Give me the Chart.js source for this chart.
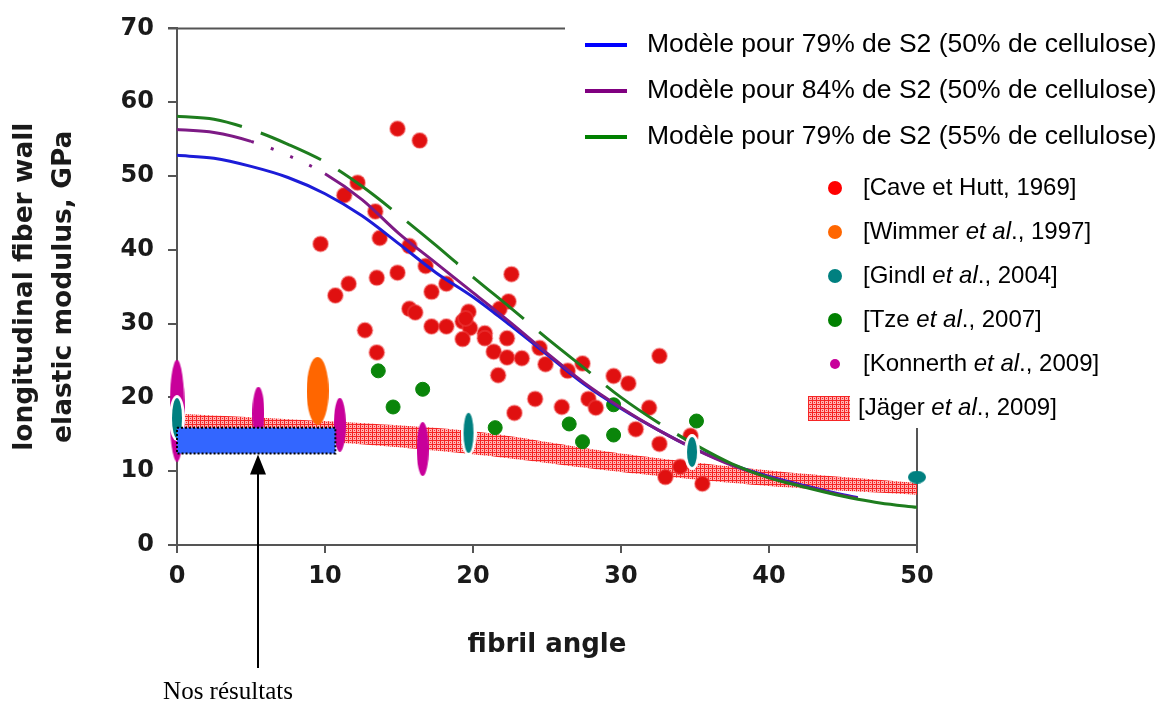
<!DOCTYPE html>
<html>
<head>
<meta charset="utf-8">
<script src="https://cdn.jsdelivr.net/npm/chart.js@4.4.0/dist/chart.umd.min.js"></script>
<style>
  html, body { margin: 0; padding: 0; background: #fff; }
  #wrap { position: relative; width: 1163px; height: 703px; }
</style>
</head>
<body>
<div id="wrap"><canvas id="chart" width="1163" height="703"></canvas></div>
<script>
// fibril angle (deg) -> longitudinal modulus (GPa)
const modelAngles = [0, 2.5, 5, 7.5, 10, 12.5, 15, 17.5, 20, 22.5, 25, 27.5, 30, 32.5, 35, 37.5, 40, 42.5, 45, 46, 47.5, 50]
const model79s2c50 = [52.8, 52.4, 51.3, 49.8, 47.6, 44.6, 40.8, 36.9, 33.6, 29.8, 25.8, 21.8, 18.5, 15.6, 13.0, 10.9, 9.3, 8.0, 6.8, 6.4, null, null]
const model84s2c50 = [56.3, 55.9, 54.7, 52.8, 50.3, 46.8, 42.2, 38.2, 34.2, 30.2, 26.0, 22.0, 18.6, 15.6, 13.0, 10.8, 9.2, 7.9, 6.7, 6.3, null, null]
const model79s2c55 = [58.1, 57.7, 56.3, 54.3, 51.9, 48.6, 44.7, 40.6, 36.3, 32.2, 28.0, 24.0, 20.0, 16.6, 13.6, 11.0, 9.1, 7.8, 6.6, 6.2, 5.7, 5.1]

const caveAngle = [14.9, 16.4, 12.2, 11.3, 13.4, 13.7, 9.7, 15.7, 16.8, 11.6, 10.7, 13.5, 14.9, 17.2, 18.2, 12.7, 13.5, 15.7, 16.1, 17.2,
  18.2, 22.6, 19.3, 19.7, 19.8, 19.3, 19.5, 20.8, 20.8, 22.4, 21.8, 22.3, 21.4, 22.3, 23.3, 21.7, 24.5, 24.9, 26.4, 24.2,
  22.8, 26.0, 27.4, 32.6, 29.5, 30.5, 27.8, 28.3, 31.9, 31.0, 32.6, 34.7, 34.0, 33.0, 35.5]
const caveModulus = [56.4, 54.8, 49.1, 47.4, 45.2, 41.6, 40.8, 40.5, 37.8, 35.4, 33.8, 36.2, 36.9, 34.3, 35.4, 29.1, 26.1, 32.0, 31.5, 29.6,
  29.6, 36.7, 30.3, 31.6, 29.4, 27.9, 30.7, 28.7, 28.0, 33.0, 32.0, 28.0, 26.2, 25.4, 25.3, 23.0, 26.7, 24.5, 23.6, 19.8,
  17.9, 18.7, 24.6, 25.6, 22.9, 21.9, 19.8, 18.6, 18.6, 15.7, 13.7, 14.8, 10.6, 9.2, 8.3]

const wimmerAngle = [9.5]
const wimmerModulus = [20.9]

const gindlAngle = [0, 19.7, 34.8, 50]
const gindlModulus = [17.2, 15.2, 12.6, 9.2]

const tzeAngle = [13.6, 14.6, 16.6, 21.5, 26.5, 27.4, 29.5, 29.5, 35.1]
const tzeModulus = [23.6, 18.7, 21.1, 15.9, 16.4, 14.0, 19.0, 14.9, 16.8]

const konnerthAngle = [0, 5.5, 11.0, 16.6]
const konnerthModulus = [18.2, 17.8, 16.3, 13.0]

const jagerAngle = [0, 10, 20, 30, 40, 50]
const jagerHigh = [17.8, 16.8, 15.4, 12.4, 10.1, 8.4]
const jagerLow = [14.8, 14.0, 12.3, 9.9, 8.0, 6.8]

const ourAngle = [0, 10.7]
const ourModulus = [12.4, 15.9]
const arrowAngle = 5.5

const labels = [
  'Modèle pour 79% de S2 (50% de cellulose)',
  'Modèle pour 84% de S2 (50% de cellulose)',
  'Modèle pour 79% de S2 (55% de cellulose)'
]
const refLabels = [
  ['[Cave et Hutt, 1969]'],
  ['[Wimmer ', 'et al', '., 1997]'],
  ['[Gindl ', 'et al', '., 2004]'],
  ['[Tze ', 'et al', '., 2007]'],
  ['[Konnerth ', 'et al', '., 2009]'],
  ['[Jäger ', 'et al', '., 2009]']
]

const pts = (xs, ys) => xs.map((x, i) => ({ x, y: ys[i] }))

function ellipse (w, h, fill, ring) {
  const c = document.createElement('canvas')
  c.width = w
  c.height = h
  const g = c.getContext('2d')
  if (ring) {
    g.fillStyle = '#fff'
    g.beginPath()
    g.ellipse(w / 2, h / 2, w / 2, h / 2, 0, 0, Math.PI * 2)
    g.fill()
  }
  const r = ring ? 3 : 0
  g.fillStyle = fill
  g.beginPath()
  g.ellipse(w / 2, h / 2, w / 2 - r, h / 2 - r, 0, 0, Math.PI * 2)
  g.fill()
  return c
}

const $canvas = document.getElementById('chart')
const ctx = $canvas.getContext('2d')

function hatch () {
  const c = document.createElement('canvas')
  c.width = 4
  c.height = 4
  const g = c.getContext('2d')
  g.fillStyle = '#ffb4b4'
  g.fillRect(0, 0, 4, 4)
  g.fillStyle = '#f52525'
  g.fillRect(0, 0, 4, 1)
  g.fillRect(0, 0, 1, 4)
  g.fillRect(2, 2, 1, 1)
  return ctx.createPattern(c, 'repeat')
}
const hatchFill = hatch()

const magenta = '#c8009a'
const teal = '#008080'

const konnerthShapes = [
  ellipse(15, 102, magenta), ellipse(12, 54, magenta), ellipse(12, 54, magenta), ellipse(12, 54, magenta)
]
const gindlShapes = [
  ellipse(16, 46, teal, true), ellipse(16, 46, teal, true), ellipse(16, 36, teal, true), ellipse(18, 13, teal)
]
const wimmerShapes = [ellipse(22, 68, '#ff6600')]

const modelLine = (data, color, order, extra) => Object.assign({
  type: 'line',
  data: pts(modelAngles, data),
  borderColor: color,
  borderWidth: 3,
  pointRadius: 0,
  cubicInterpolationMode: 'monotone',
  fill: false,
  order
}, extra)

const ourBox = [
  { x: ourAngle[0], y: ourModulus[1] },
  { x: ourAngle[1], y: ourModulus[1] },
  { x: ourAngle[1], y: ourModulus[0] },
  { x: ourAngle[0], y: ourModulus[0] },
  { x: ourAngle[0], y: ourModulus[1] }
]

const datasets = [
  {
    type: 'line',
    label: 'Nos résultats',
    data: ourBox,
    borderColor: '#000',
    borderWidth: 2,
    borderDash: [2, 2],
    backgroundColor: '#3366ff',
    fill: 'shape',
    pointRadius: 0,
    tension: 0,
    clip: false,
    order: 0
  },
  { label: 'Wimmer', data: pts(wimmerAngle, wimmerModulus), pointStyle: wimmerShapes, pointRadius: 5, clip: false, order: 1 },
  { label: 'Gindl', data: pts(gindlAngle, gindlModulus), pointStyle: gindlShapes, pointRadius: 5, clip: false, order: 2 },
  { label: 'Konnerth', data: pts(konnerthAngle, konnerthModulus), pointStyle: konnerthShapes, pointRadius: 5, clip: false, order: 3 },
  modelLine(model79s2c55, '#1e7d1e', 4, {
    segment: { borderDash: (c) => (c.p0.parsed.x < 35 ? [66, 20] : undefined) }
  }),
  modelLine(model84s2c50, '#7d1a85', 5, {
    segment: { borderDash: (c) => (c.p0.parsed.x >= 5 && c.p0.parsed.x < 10 ? [3, 18] : undefined) }
  }),
  modelLine(model79s2c50, '#1c1cd8', 6),
  {
    label: 'Tze',
    data: pts(tzeAngle, tzeModulus),
    backgroundColor: '#0a850a',
    borderColor: '#0a850a',
    pointRadius: 7,
    order: 7
  },
  {
    label: 'Cave et Hutt',
    data: pts(caveAngle, caveModulus),
    backgroundColor: '#e01010',
    borderColor: 'rgba(240, 70, 70, 0.45)',
    borderWidth: 2,
    pointRadius: 7.5,
    order: 8
  },
  {
    type: 'line',
    label: 'Jäger haut',
    data: pts(jagerAngle, jagerHigh),
    borderWidth: 0,
    borderColor: 'rgba(0,0,0,0)',
    backgroundColor: hatchFill,
    fill: '+1',
    pointRadius: 0,
    tension: 0.3,
    order: 9
  },
  {
    type: 'line',
    label: 'Jäger bas',
    data: pts(jagerAngle, jagerLow),
    borderWidth: 0,
    borderColor: 'rgba(0,0,0,0)',
    pointRadius: 0,
    tension: 0.3,
    fill: false,
    order: 10
  }
]

const boldFont = (size) => ({ family: 'DejaVu Sans', weight: 'bold', size })

// top and right edges of the plot box
const frame = {
  id: 'frame',
  beforeDatasetsDraw (chart) {
    const { left, right, top, bottom } = chart.chartArea
    const c = chart.ctx
    c.save()
    c.strokeStyle = '#555'
    c.lineWidth = 2
    c.beginPath()
    c.moveTo(left - 9, top)
    c.lineTo(right, top)
    c.moveTo(right, top)
    c.lineTo(right, bottom + 8)
    c.stroke()
    c.restore()
  }
}

// legend box drawn over the upper right corner
const legendBox = {
  id: 'legendBox',
  afterDatasetsDraw (chart) {
    const c = chart.ctx
    c.save()
    c.fillStyle = '#fff'
    c.fillRect(565, 0, 598, 166)
    c.fillRect(790, 166, 373, 262)
    c.textBaseline = 'middle'
    c.fillStyle = '#000'

    const lineColors = ['#0000ff', '#800080', '#008000']
    labels.forEach((t, i) => {
      const y = 45 + i * 46
      c.fillStyle = lineColors[i]
      c.fillRect(585, y - 2, 42, 4)
      c.fillStyle = '#000'
      c.font = '26.5px "Liberation Sans"'
      c.fillText(t, 647, y)
    })

    const dotColors = ['#ff0000', '#ff6600', teal, '#008000', magenta]
    const dotSizes = [7, 7, 7, 7, 5]
    refLabels.forEach((parts, i) => {
      const y = 188 + i * 44
      let x = 863
      if (i < 5) {
        c.fillStyle = dotColors[i]
        c.beginPath()
        c.arc(835, y, dotSizes[i], 0, Math.PI * 2)
        c.fill()
      } else {
        c.fillStyle = hatchFill
        c.fillRect(808, y - 12, 42, 25)
        x = 858
      }
      c.fillStyle = '#000'
      parts.forEach((p, k) => {
        c.font = (k === 1 ? 'italic ' : '') + '24px "Liberation Sans"'
        c.fillText(p, x, y)
        x += c.measureText(p).width
      })
    })
    c.restore()
  }
}

// arrow and caption under the blue box
const arrow = {
  id: 'arrow',
  afterDatasetsDraw (chart) {
    const c = chart.ctx
    const x = Math.round(chart.scales.x.getPixelForValue(arrowAngle))
    const tip = chart.scales.y.getPixelForValue(ourModulus[0]) + 1
    c.save()
    c.strokeStyle = '#000'
    c.fillStyle = '#000'
    c.lineWidth = 2
    c.beginPath()
    c.moveTo(x, 668)
    c.lineTo(x, tip + 18)
    c.stroke()
    c.beginPath()
    c.moveTo(x, tip)
    c.lineTo(x - 8, tip + 20)
    c.lineTo(x + 8, tip + 20)
    c.closePath()
    c.fill()
    c.font = '25px "Liberation Serif"'
    c.textAlign = 'center'
    c.textBaseline = 'middle'
    c.fillText('Nos résultats', x - 30, 692)
    c.restore()
  }
}

new Chart(ctx, { // eslint-disable-line
  type: 'scatter',
  data: { datasets },
  options: {
    responsive: false,
    animation: false,
    events: [],
    layout: { padding: { left: 0, top: 25, right: 246, bottom: 0 } },
    plugins: {
      legend: { display: false },
      tooltip: { enabled: false }
    },
    scales: {
      x: {
        type: 'linear',
        min: 0,
        max: 50,
        ticks: { stepSize: 10, color: '#1a1a1a', font: boldFont(24), padding: 9 },
        grid: { drawOnChartArea: false, tickLength: 8, color: '#555', lineWidth: 2 },
        border: { display: true, color: '#555', width: 2 },
        title: { display: true, text: 'fibril angle', color: '#1a1a1a', font: boldFont(26), padding: { top: 0, bottom: 42 } },
        afterFit: (s) => { s.height = 158 }
      },
      y: {
        type: 'linear',
        min: 0,
        max: 70,
        ticks: { stepSize: 10, color: '#1a1a1a', font: boldFont(24), padding: 14 },
        grid: { drawOnChartArea: false, tickLength: 9, color: '#555', lineWidth: 2 },
        border: { display: true, color: '#555', width: 2 },
        title: {
          display: true,
          text: ['longitudinal fiber wall', 'elastic modulus, GPa'],
          color: '#1a1a1a',
          font: { family: 'DejaVu Sans', weight: 'bold', size: 26.5, lineHeight: 1.45 },
          padding: { top: 6, bottom: 0 }
        },
        afterFit: (s) => { s.width = 177 }
      }
    }
  },
  plugins: [frame, legendBox, arrow]
})
</script>
</body>
</html>
